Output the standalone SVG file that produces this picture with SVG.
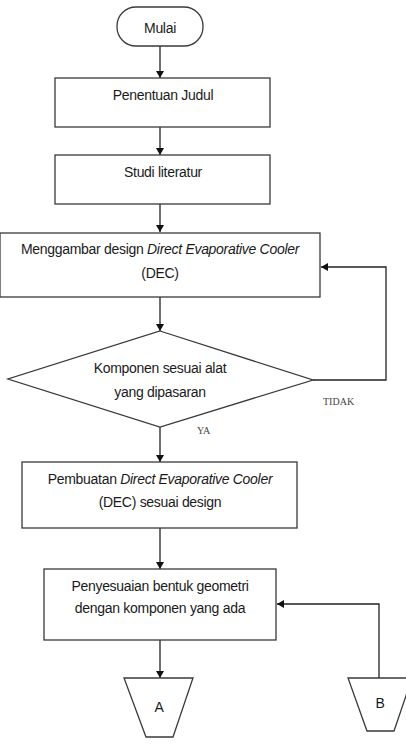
<svg xmlns="http://www.w3.org/2000/svg" width="406" height="752" viewBox="0 0 406 752">
<style>
.s{fill:#fff;stroke:#3a3a3a;stroke-width:1.3}
.t{font-family:"Liberation Sans",Arial,sans-serif;font-size:14px;letter-spacing:-0.3px;fill:#1a1a1a;text-anchor:middle}
.l{font-family:"Liberation Serif","Times New Roman",serif;font-size:10px;fill:#444}
.c{fill:none;stroke:#222;stroke-width:1.3}
</style>
<defs>
<marker id="ah" markerWidth="8" markerHeight="8" refX="7" refY="4" orient="auto" markerUnits="userSpaceOnUse">
<path d="M0,0 L7,4 L0,8 Z" fill="#111"/>
</marker>
</defs>
<rect width="406" height="752" fill="#fff"/>
<g id="connectors">
<line class="c" x1="160" y1="46" x2="160" y2="78" marker-end="url(#ah)"/>
<line class="c" x1="160" y1="127" x2="160" y2="155" marker-end="url(#ah)"/>
<line class="c" x1="160" y1="204" x2="160" y2="232" marker-end="url(#ah)"/>
<line class="c" x1="160" y1="297" x2="160" y2="331" marker-end="url(#ah)"/>
<polyline class="c" points="313,380 386,380 386,267 321,267" marker-end="url(#ah)"/>
<line class="c" x1="160" y1="427" x2="160" y2="462" marker-end="url(#ah)"/>
<line class="c" x1="160" y1="528" x2="160" y2="569" marker-end="url(#ah)"/>
<line class="c" x1="160" y1="640" x2="160" y2="678" marker-end="url(#ah)"/>
<polyline class="c" points="379,678 379,604 277,604" marker-end="url(#ah)"/>
<text class="l" x="323" y="405">TIDAK</text>
<text class="l" x="197" y="434">YA</text>
</g>
<g id="mulai">
<rect class="s" x="117" y="7" width="86" height="39" rx="19" ry="19"/>
<text class="t" x="160" y="33">Mulai</text>
</g>
<g id="penentuan">
<rect class="s" x="55" y="78" width="215" height="49"/>
<text class="t" x="163" y="100">Penentuan Judul</text>
</g>
<g id="studi">
<rect class="s" x="55" y="155" width="215" height="49"/>
<text class="t" x="163" y="177">Studi literatur</text>
</g>
<g id="menggambar">
<rect class="s" x="0" y="233" width="320" height="64"/>
<text class="t" x="160" y="254">Menggambar design <tspan font-style="italic">Direct Evaporative Cooler</tspan></text>
<text class="t" x="160" y="278">(DEC)</text>
</g>
<g id="komponen">
<polygon class="s" points="160,331 313,380 160,427 8,379"/>
<text class="t" x="160" y="373">Komponen sesuai alat</text>
<text class="t" x="160" y="397">yang dipasaran</text>
</g>
<g id="pembuatan">
<rect class="s" x="22" y="462" width="275" height="66"/>
<text class="t" x="160" y="484">Pembuatan <tspan font-style="italic">Direct Evaporative Cooler</tspan></text>
<text class="t" x="160" y="507">(DEC) sesuai design</text>
</g>
<g id="penyesuaian">
<rect class="s" x="44" y="569" width="232" height="71"/>
<text class="t" x="160" y="591">Penyesuaian bentuk geometri</text>
<text class="t" x="160" y="613">dengan komponen yang ada</text>
</g>
<g id="A">
<polygon class="s" points="124,678 193,678 173,737 146,737"/>
<text class="t" x="159" y="712">A</text>
</g>
<g id="B">
<polygon class="s" points="348,678 412,678 394,731 367,731"/>
<text class="t" x="380" y="708">B</text>
</g>
</svg>
